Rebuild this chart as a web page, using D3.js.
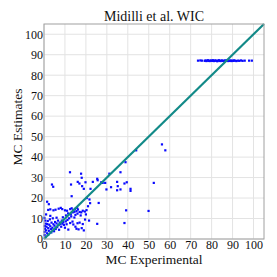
<!DOCTYPE html>
<html>
<head>
<meta charset="utf-8">
<script src="https://cdn.jsdelivr.net/npm/d3@7"></script>
<style>
  body { margin: 0; background: #fff; }
  svg text { font-family: "Liberation Serif", "DejaVu Serif", serif; fill: #111; }
</style>
</head>
<body>
<div id="chart"></div>
<script>
// chart data
var chartTitle = "Midilli et al. WIC";
var xLabel = "MC Experimental";
var yLabel = "MC Estimates";
var tickValues = [0, 10, 20, 30, 40, 50, 60, 70, 80, 90, 100];

// lower-left cluster: [experimental, estimate]
var clusterPoints = [
  [2, 14.2], [3, 14.5], [4.5, 14], [5.5, 14.3], [7, 14.8], [8, 15.2], [8.7, 14.6], [10, 14],
  [11, 13.8], [12.5, 14.6], [13.2, 15], [14, 14.2], [14.8, 14.7], [15.5, 13.6], [16.2, 14.4],
  [17, 13.2], [18.5, 13.8], [19.5, 13.4], [20.3, 14.1], [14.5, 13.3], [15.8, 15.2],
  [1.5, 18.2], [2.3, 17], [21, 16], [22, 17.5], [26.1, 17.6], [21.7, 19.3], [20.4, 20],
  [0.3, 3.5], [0.5, 5], [0.4, 6.3], [0.8, 7.5], [0.6, 9], [0.2, 10.3], [1, 4.2], [1.2, 6],
  [1.5, 7.3], [1.8, 8.8], [2, 5.3], [2.3, 4], [2.5, 7], [2.8, 9.6], [3, 6.2], [3.3, 4.8],
  [3.6, 8], [4, 5.5], [4.2, 10.1], [4.5, 7.2], [4.8, 3.8], [5, 6.5], [5.3, 8.3], [5.6, 4.9],
  [6, 7.6], [6.3, 5.8], [6.7, 9], [7, 6.8], [7.2, 4.5], [7.5, 8], [7.8, 7.3], [8.2, 6],
  [8.5, 9], [8.8, 7.5], [9.2, 8.3], [9.5, 6.9], [10, 5.5], [10.4, 8.6], [10.8, 7.2], [11.2, 9.3],
  [11.6, 4.6], [12, 10.1], [12.5, 7.8], [13, 11], [13.6, 8.5], [14, 7.1], [14.5, 10.5], [15, 6],
  [15.5, 5], [16, 7.7], [16.5, 4.7], [17, 8], [17.5, 11.5], [18, 5.3], [18.5, 7.3], [19, 4.2],
  [19.6, 9.5], [20, 12], [21.5, 9], [25.4, 7.4], [38.4, 7.8], [10.5, 11.5], [11.5, 12.5],
  [12.8, 12], [9, 10.6], [6, 10.4], [3, 11.3], [1, 12], [0.3, 2], [0.6, 0.8], [1.5, 2.8],
  [2, 2], [3.5, 3.2], [16, 12.4], [17.8, 13], [13.7, 13], [15, 11.8],
  [3.8, 26.6], [4.4, 25.5], [12.4, 32.6], [17.7, 31.9], [18, 29.9], [12.9, 26.6], [16.1, 27.9],
  [16.9, 27.1], [18.2, 25.8], [19.8, 27.7], [19, 24.5], [23.3, 27.9], [22.2, 24.5], [13.2, 20.9],
  [25.4, 29.4], [25.6, 28.7], [27.3, 27.7], [28, 27.4], [29.2, 27.4], [29.8, 24.2], [32, 25.3],
  [34.9, 27.9], [35.2, 25.8], [34.9, 23.8], [36.5, 24.2], [38.4, 27.1], [39.5, 27.7],
  [41.3, 24.5], [41.3, 23.5], [31.2, 31.9], [36.5, 32.6], [38.9, 37.5], [44, 43.3],
  [56.3, 46.2], [57.9, 43.3], [52.4, 27.4], [39.2, 14], [49.9, 13.7]
];

// the flat band of estimates near 87
var bandX = [73.5, 74.6, 75.4, 76.7, 77.1, 77.5, 77.9, 78.3, 78.7, 79.1, 79.5, 79.9, 80.3, 80.7,
  81.1, 81.5, 81.9, 82.3, 82.7, 83.1, 83.5, 83.9, 84.3, 84.7, 85.1, 85.5, 85.9, 86.3, 86.7,
  87.1, 87.5, 87.9, 88.3, 88.7, 89.1, 89.5, 89.9, 90.3, 90.7, 91.2, 91.8, 92.5, 93.2, 94, 94.8,
  95.8, 97.9, 99.2];
var bandY = [87.1, 87.2, 87.1, 87.0, 87.2, 86.9, 87.1, 87.3, 87.0, 86.9, 87.2, 87.1, 87.0, 87.3,
  86.9, 87.1, 87.2, 87.0, 86.8, 87.1, 87.3, 87.0, 86.9, 87.2, 87.1, 87.0, 86.9, 87.2, 87.1,
  87.0, 87.3, 86.9, 87.1, 87.0, 87.2, 86.9, 87.1, 87.0, 87.2, 87.1, 86.9, 87.1, 87.0, 87.2, 87.0,
  87.1, 87.1, 87.1];

var svgWidth = 277;
var svgHeight = 277;
var margin = { top: 24, right: 13, bottom: 38, left: 44 };
var chartWidth = svgWidth - margin.left - margin.right;
var chartHeight = svgHeight - margin.top - margin.bottom;

var svg = d3.select("#chart")
  .append("svg")
  .attr("width", svgWidth)
  .attr("height", svgHeight);

var chartGroup = svg.append("g")
  .attr("transform", `translate(${margin.left}, ${margin.top})`);

var xScale = d3.scaleLinear().domain([0, 105]).range([0, chartWidth]);
var yScale = d3.scaleLinear().domain([0, 105]).range([chartHeight, 0]);

// grid
chartGroup.append("g")
  .selectAll("line.vg")
  .data(tickValues)
  .join("line")
  .attr("x1", d => xScale(d)).attr("x2", d => xScale(d))
  .attr("y1", 0).attr("y2", chartHeight)
  .attr("stroke", "#e3e3e3").attr("stroke-width", 1);

chartGroup.append("g")
  .selectAll("line.hg")
  .data(tickValues)
  .join("line")
  .attr("y1", d => yScale(d)).attr("y2", d => yScale(d))
  .attr("x1", 0).attr("x2", chartWidth)
  .attr("stroke", "#e3e3e3").attr("stroke-width", 1);

// axes (labels only, no tick marks)
var bottomAxis = d3.axisBottom(xScale).tickValues(tickValues).tickSize(0).tickPadding(1);
var leftAxis = d3.axisLeft(yScale).tickValues(tickValues).tickSize(0).tickPadding(1);

var xAxisG = chartGroup.append("g")
  .attr("transform", `translate(0, ${chartHeight})`)
  .call(bottomAxis);
var yAxisG = chartGroup.append("g").call(leftAxis);

[xAxisG, yAxisG].forEach(g => {
  g.select(".domain").remove();
  g.selectAll("text")
    .style("font-family", "Liberation Serif, serif")
    .style("font-size", "12px")
    .attr("fill", "#111");
});

// points
var pointSize = 2.2;
chartGroup.append("g")
  .selectAll("rect.pt")
  .data(clusterPoints)
  .join("rect")
  .attr("x", d => xScale(d[0]) - pointSize / 2)
  .attr("y", d => yScale(d[1]) - pointSize / 2)
  .attr("width", pointSize).attr("height", pointSize)
  .attr("fill", "#0a0aff");

chartGroup.append("g")
  .selectAll("rect.band")
  .data(bandX)
  .join("rect")
  .attr("x", d => xScale(d) - pointSize / 2)
  .attr("y", (d, i) => yScale(bandY[i]) - pointSize / 2)
  .attr("width", pointSize).attr("height", pointSize)
  .attr("fill", "#0a0aff");

// identity line
chartGroup.append("line")
  .attr("x1", xScale(0)).attr("y1", yScale(0))
  .attr("x2", xScale(105)).attr("y2", yScale(105))
  .attr("stroke", "#128a88").attr("stroke-width", 2.2);

// frame
chartGroup.append("rect")
  .attr("x", 0).attr("y", 0)
  .attr("width", chartWidth).attr("height", chartHeight)
  .attr("fill", "none").attr("stroke", "#a0a0a0").attr("stroke-width", 1);

// titles
svg.append("text")
  .attr("x", margin.left + chartWidth / 2).attr("y", 21)
  .attr("text-anchor", "middle")
  .style("font-size", "14px")
  .text(chartTitle);

svg.append("text")
  .attr("x", margin.left + chartWidth / 2).attr("y", 264)
  .attr("text-anchor", "middle")
  .style("font-size", "13.5px")
  .text(xLabel);

svg.append("text")
  .attr("transform", "translate(22, 127) rotate(-90)")
  .attr("text-anchor", "middle")
  .style("font-size", "13.5px")
  .text(yLabel);
</script>
</body>
</html>
